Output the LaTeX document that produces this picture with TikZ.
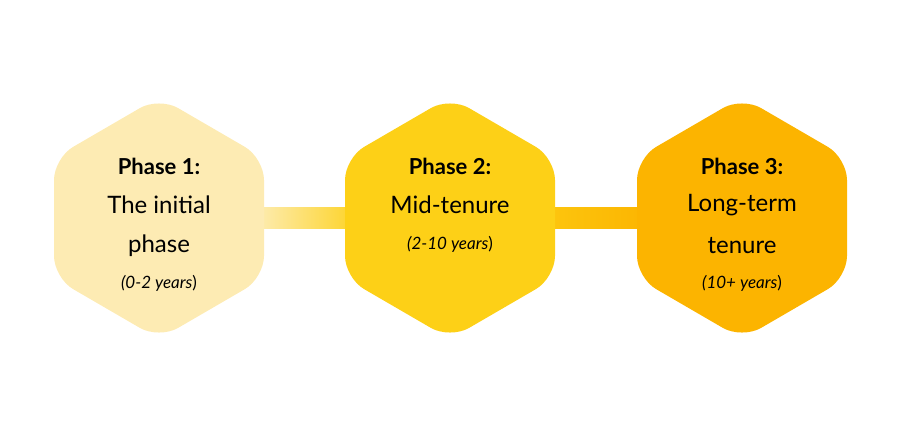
\documentclass[tikz,border=0pt]{standalone}
\usepackage{fontspec}
\setmainfont{Lato}
\definecolor{hA}{HTML}{FDEBB3}
\definecolor{hB}{HTML}{FDD017}
\definecolor{hC}{HTML}{FCB400}
\begin{document}
\begin{tikzpicture}[x=1pt,y=-1pt,
  hexa/.style={rounded corners=22pt},
  bold/.style={font=\bfseries\fontsize{22}{24}\selectfont},
  reg/.style={font=\fontsize{24}{28}\selectfont},
  ital/.style={font=\itshape\fontsize{17}{20}\selectfont}]
\useasboundingbox (0,0) rectangle (900,436);
\def\hex#1#2#3{\fill[#3,hexa] (#1,#2-121) -- (#1+105,#2-60) -- (#1+105,#2+60) -- (#1,#2+121) -- (#1-105,#2+60) -- (#1-105,#2-60) -- cycle;}
\shade[left color=hA!80!white,right color=hB] (245,207) rectangle (368,228);
\shade[left color=hB!60!hC,right color=hC] (550,207) rectangle (655,228);
\hex{159}{218}{hA}
\hex{450}{218}{hB}
\hex{742}{218}{hC}
\node[bold] (p1) at (159,166) {Phase 1:};
\node[reg] (t1) at (159,205) {The initial};
\node[reg] (t1b) at (159,246) {phase};
\node[ital] (y1) at (159,283) {(0-2 years\upshape)};
\node[bold] (p2) at (450,166) {Phase 2:};
\node[reg] (t2) at (450,205) {Mid-tenure};
\node[ital] (y2) at (450,244) {(2-10 years\upshape)};
\node[bold] (p3) at (742,166) {Phase 3:};
\node[reg] (t3) at (742,205) {Long-term};
\node[reg] (t3b) at (742,246) {tenure};
\node[ital] (y3) at (742,283) {(10+ years\upshape)};
\end{tikzpicture}
\end{document}
